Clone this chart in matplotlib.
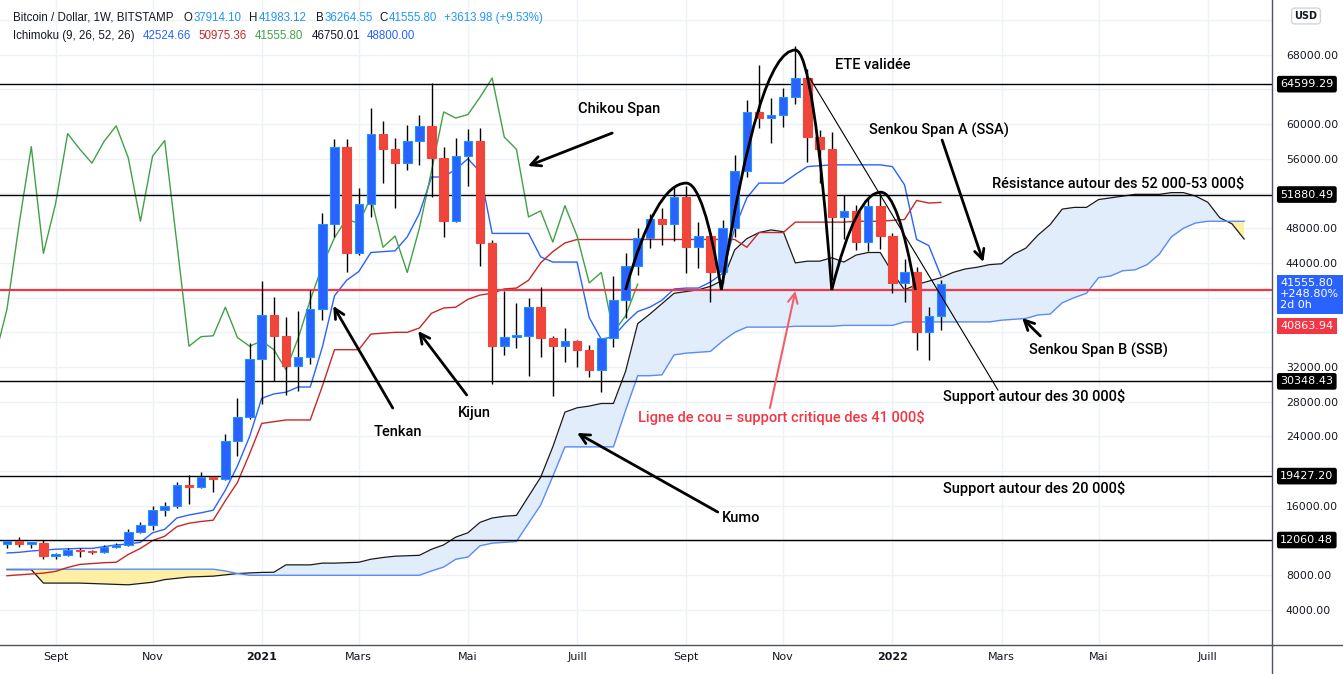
import numpy as np
import matplotlib.pyplot as plt
from matplotlib.path import Path
from matplotlib.patches import PathPatch
from matplotlib.lines import Line2D

plt.rcParams['font.family'] = ['DejaVu Sans']

# weekly candles, first bar = week of 10 Aug 2020, last = week of 31 Jan 2022
opens = [11600, 11900, 11600, 11700, 10250, 10330, 10920, 10770, 10670, 11300,
         11500, 13030, 13750, 15480, 15970, 18400, 18180, 19300, 19150, 23500,
         26200, 32900, 38000, 35600, 32100, 33100, 38700, 48500, 57400, 45100,
         50800, 58900, 57100, 55500, 58000, 59800, 56100, 48800, 56300, 58100,
         46300, 34400, 35500, 35600, 38900, 35400, 34400, 35000, 34000, 31700,
         35300, 39700, 43700, 46900, 49100, 48500, 51600, 45800, 47100, 42900,
         48000, 54600, 61400, 60700, 61100, 63100, 65300, 58500, 57100, 49300,
         50000, 46400, 50600, 47100, 41700, 42900, 36000, 37914.10]
highs = [12100, 12400, 11800, 12050, 10600, 11180, 11100, 10950, 11480, 11700,
         13350, 14100, 15970, 16480, 18800, 19500, 19900, 19400, 24300, 28400,
         34800, 41950, 40100, 37800, 38500, 40900, 49700, 58300, 58300, 52600,
         61800, 60400, 58400, 59900, 61000, 64700, 57400, 58400, 59400, 59500,
         46600, 40800, 39400, 39900, 41200, 35600, 36500, 35100, 34500, 35400,
         42500, 45100, 48000, 49600, 50300, 52700, 52900, 48700, 47400, 48900,
         56400, 62800, 66800, 63000, 64200, 69000, 66300, 59300, 59100, 51800,
         50700, 51600, 52100, 47400, 44400, 43500, 38900, 41983.12]
lows = [11100, 11300, 11150, 9900, 9850, 10200, 10150, 10400, 10530, 11200,
        11400, 12900, 13200, 14800, 15800, 16200, 18100, 17600, 19000, 21800,
        26000, 27700, 30400, 28800, 29200, 32300, 37400, 47000, 42900, 44900,
        49300, 53200, 50300, 54700, 55300, 51600, 47000, 48700, 52900, 43700,
        30100, 33400, 34200, 31000, 33200, 28700, 32600, 32000, 30900, 29100,
        34300, 37600, 42600, 45700, 46100, 46500, 42800, 43400, 39500, 41700,
        47000, 53900, 59500, 57800, 59700, 62300, 55600, 53200, 42000, 46700,
        45500, 45400, 45600, 40500, 39500, 34000, 32800, 36264.55]
closes = [11900, 11600, 11700, 10250, 10330, 10920, 10770, 10670, 11300, 11500,
          13030, 13750, 15480, 15970, 18400, 18180, 19300, 19150, 23500, 26200,
          32900, 38000, 35600, 32100, 33100, 38700, 48500, 57400, 45100, 50800,
          58900, 57100, 55500, 58000, 59800, 56100, 48800, 56300, 58100, 46300,
          34400, 35500, 35600, 38900, 35400, 34400, 35000, 34000, 31700, 35300,
          39700, 43700, 46900, 49100, 48500, 51600, 45800, 47100, 42900, 48000,
          54600, 61400, 60700, 61100, 63100, 65300, 58500, 57100, 49300, 50000,
          46400, 50600, 47100, 41700, 42900, 36000, 37900, 41555.80]

# Ichimoku lines (one value per week)
tenkan = [10570, 10650, 10800, 10900, 11000, 11050, 11100, 11100, 11300, 11500,
          11600, 11800, 12900, 13300, 14600, 14950, 15200, 15500, 17800, 20600,
          24000, 28400, 28900, 29100, 29700, 29700, 34300, 40200, 42000, 43000,
          45200, 45300, 45400, 47000, 49700, 53900, 53900, 54800, 56000, 54500,
          47400, 47400, 47400, 47400, 44700, 44100, 44100, 44100, 37700, 35200,
          35500, 37100, 38400, 38900, 39700, 41000, 41100, 41100, 41800, 42800,
          48000, 51500, 53200, 53200, 53200, 54200, 55100, 55200, 55300, 55300,
          55300, 55300, 55300, 55100, 53000, 46700, 46000, 42524.66]
kijun = [7950, 8050, 8150, 8250, 8450, 8900, 9250, 9350, 9450, 9500,
         10400, 11100, 12000, 12500, 13600, 14000, 14200, 14350, 16600, 18700,
         22000, 25500, 25700, 25900, 25900, 25900, 29800, 34000, 34000, 34000,
         35800, 35900, 36000, 36000, 36500, 38200, 38800, 38900, 39800, 40300,
         40500, 41000, 41100, 42000, 44000, 45300, 46300, 46700, 46700, 46700,
         46700, 46700, 46700, 46700, 46700, 46700, 46700, 46700, 46700, 46700,
         46700, 45800, 47500, 47500, 47500, 48700, 48700, 48700, 48700, 48700,
         48800, 48800, 48800, 48900, 49000, 51200, 50900, 50975.36]
span_a = [8650, 8650, 8650, 7100, 7100, 7100, 7100, 7050, 7000, 6950,
          6900, 7050, 7200, 7500, 7650, 7800, 7850, 7900, 8050, 8200,
          8270, 8330, 8350, 9200, 9200, 9200, 9400, 9400, 9450, 9500,
          9850, 10050, 10200, 10250, 10300, 11000, 11500, 12400, 12900, 14100,
          14600, 14800, 14900, 17100, 19300, 22800, 26800, 27300, 27500, 27800,
          27800, 31500, 37000, 38100, 39300, 40500, 40700, 40900, 41300, 42000,
          45500, 46800, 47500, 47800, 47600, 44000, 44200, 44200, 44600, 44100,
          44900, 45200, 45200, 42900, 40900, 41500, 41900, 42300, 42900, 43300,
          43500, 43800, 43900, 45000, 45700, 47200, 48400, 50200, 50400, 50400,
          51300, 51500, 51700, 51900, 51900, 51900, 52100, 52100, 51700, 51000,
          49200, 48500, 46750.01]
span_b = [8700, 8700, 8700, 8700, 8700, 8700, 8700, 8700, 8700, 8700,
          8700, 8700, 8700, 8700, 8700, 8700, 8700, 8700, 8500, 8200,
          8000, 8000, 8000, 8000, 8000, 8000, 8000, 8000, 8000, 8000,
          8000, 8000, 8000, 8000, 8000, 8500, 8950, 9850, 10100, 11400,
          11700, 11800, 11900, 14000, 16100, 19400, 22800, 22800, 22800, 22800,
          22800, 27000, 31000, 31000, 31100, 33400, 33600, 33700, 33800, 35000,
          36000, 36600, 36600, 36600, 36600, 36700, 36700, 36700, 36700, 36800,
          36800, 36800, 36800, 36800, 37200, 37200, 37200, 37200, 37200, 37200,
          37200, 37200, 37400, 37500, 37600, 38000, 38100, 39400, 40000, 40500,
          42300, 42500, 43100, 43200, 43800, 45000, 47000, 48000, 48600, 48800,
          48800, 48800, 48800]
shift = 25  # chikou / kumo displacement in bars

month_pos = [4, 12, 21, 29, 38, 47, 56, 64, 73, 82, 90, 99]
month_labels = ['Sept', 'Nov', '2021', 'Mars', 'Mai', 'Juill',
                'Sept', 'Nov', '2022', 'Mars', 'Mai', 'Juill']

levels = [64599.29, 51880.49, 30348.43, 19427.20, 12060.48]
neckline = 40863.94
covered_ticks = [72000, 64000, 52000, 40000, 36000, 20000, 12000]  # hidden behind labels

BLUE = '#2962ff'
RED = '#f0453a'
INK = '#131722'
NOTE_FONT = ['Roboto', 'DejaVu Sans']
W, H = 1343, 674

fig = plt.figure(figsize=(W / 100, H / 100), dpi=100)
ax = fig.add_axes([0, 29 / H, 1272 / W, 645 / H])

x = np.arange(len(closes))
xc = np.arange(len(span_a))
a = np.array(span_a)
b = np.array(span_b)

# kumo
ax.fill_between(xc, a, b, where=a >= b, interpolate=True, color='#e2edfb', lw=0, zorder=1)
ax.fill_between(xc, a, b, where=a < b, interpolate=True, color='#fdf0a4', lw=0, zorder=1)
ax.plot(xc, a, color='#1a1a1a', lw=0.9, zorder=2)
ax.plot(xc, b, color='#5b8cf5', lw=1, zorder=2)

ax.plot(x, tenkan, color=BLUE, lw=1, zorder=2)
ax.plot(x, kijun, color='#c62828', lw=1, zorder=2)
ax.plot(x[24:] - shift, closes[24:], color='#43a047', lw=1, zorder=2)

for lv in levels:
    ax.axhline(lv, color='black', lw=1, zorder=3)
ax.axhline(neckline, color='#f23645', lw=1.6, zorder=3)

# candles
o = np.array(opens)
c = np.array(closes)
up = c >= o
ax.vlines(x, lows, highs, color='black', lw=1, zorder=4)
ax.bar(x, np.maximum(np.abs(c - o), 180), bottom=np.minimum(o, c), width=0.7,
       color=np.where(up, BLUE, RED), edgecolor=np.where(up, '#2196f3', RED),
       lw=0.8, zorder=5)

# head & shoulders drawing (start, top, end, top price)
arches = [(51.0, 56.0, 58.9, 53200), (58.9, 65.0, 68.0, 68540), (68.0, 72.05, 74.9, 52150)]
for x0, xp, x1, top in arches:
    verts = [(x0, 40880), ((x0 + xp) / 2, top), (xp, top), ((xp + x1) / 2, top), (x1, 40880)]
    codes = [Path.MOVETO, Path.CURVE3, Path.CURVE3, Path.CURVE3, Path.CURVE3]
    ax.add_patch(PathPatch(Path(verts, codes), fill=False, lw=2, ec='black', zorder=6))
ax.plot([66.2, 81.7], [65280, 29350], color='black', lw=0.8, zorder=6)

# notes and arrows
notes = [('ETE validée', 68.3, 66810, 'black'),
         ('Chikou Span', 47.1, 61740, 'black'),
         ('Senkou Span A (SSA)', 71.1, 59320, 'black'),
         ('Résistance autour des 52 000-53 000$', 81.2, 53100, 'black'),
         ('Senkou Span B (SSB)', 84.3, 33960, 'black'),
         ('Support autour des 30 000$', 77.2, 28550, 'black'),
         ('Ligne de cou = support critique des 41 000$', 52.0, 26240, '#f23645'),
         ('Tenkan', 30.2, 24510, 'black'),
         ('Kijun', 37.2, 26700, 'black'),
         ('Support autour des 20 000$', 77.2, 17950, 'black'),
         ('Kumo', 58.9, 14600, 'black')]
for txt, tx, ty, col in notes:
    ax.text(tx, ty, txt, color=col, fontsize=10.5, family=NOTE_FONT, fontweight='medium',
            ha='left', va='center', zorder=8)

arrows = [((42.95, 55170), (49.9, 58970), 'black'),
          ((26.9, 39040), (31.8, 27280), 'black'),
          ((33.9, 36150), (37.9, 28780), 'black'),
          ((47.0, 24400), (58.6, 15290), 'black'),
          ((80.5, 44100), (77.1, 58160), 'black'),
          ((83.7, 37650), (85.2, 35580), 'black'),
          ((65.0, 40760), (62.9, 27280), '#f0606a')]
for head, tail, col in arrows:
    ax.annotate('', xy=head, xytext=tail, zorder=8,
                arrowprops=dict(arrowstyle='->,head_length=0.7,head_width=0.35',
                                color=col, lw=2 if col == 'black' else 1.5,
                                shrinkA=0, shrinkB=0))

# axes look
ax.set_xlim(-0.58, 104.3)
ax.set_ylim(-35, 74300)
ax.set_yticks(np.arange(4000, 76000, 4000))
ax.yaxis.set_major_formatter(plt.FuncFormatter(
    lambda v, p: '' if round(v) in covered_ticks else f'{v:.2f}'))
ax.yaxis.tick_right()
ax.tick_params(axis='y', length=0, pad=10, labelsize=7.8, labelcolor=INK)
ax.set_xticks(month_pos)
ax.set_xticklabels(month_labels)
for lab in ax.get_xticklabels():
    if lab.get_text() in ('2021', '2022'):
        lab.set_fontweight('bold')
ax.tick_params(axis='x', length=0, pad=5, labelsize=8, labelcolor=INK)
ax.grid(True, color='#eef1f6', lw=1)
ax.set_axisbelow(True)
for side in ('top', 'left'):
    ax.spines[side].set_visible(False)
for side in ('right', 'bottom'):
    ax.spines[side].set_color('#50535e')
    ax.spines[side].set_linewidth(1)
fig.add_artist(Line2D([1272 / W, 1272 / W], [0, 29 / H], color='#50535e', lw=1))
fig.add_artist(Line2D([1272 / W, 1], [29 / H, 29 / H], color='#50535e', lw=1))

# price labels on the axis
ytr = ax.get_yaxis_transform()
for lv in levels:
    ax.text(1.0065, lv, f'{lv:.2f}', transform=ytr, color='white', fontsize=8,
            ha='left', va='center', zorder=10, clip_on=False,
            bbox=dict(boxstyle='round,pad=0.3,rounding_size=0.2', fc='black', ec='none'))
ax.text(1.0065, 42250, '41555.80\n+248.80%\n2d 0h', transform=ytr, color='white',
        fontsize=8, ha='left', va='top', linespacing=1.15, zorder=10, clip_on=False,
        bbox=dict(boxstyle='square,pad=0.3', fc=BLUE, ec='none'))
ax.text(1.0065, 36730, '40863.94', transform=ytr, color='white', fontsize=8,
        ha='left', va='center', zorder=10, clip_on=False,
        bbox=dict(boxstyle='square,pad=0.3', fc='#f23645', ec='none'))
fig.text(1306 / W, 1 - 16 / H, 'USD', fontsize=7, color=INK, ha='center', va='center',
         fontweight='bold',
         bbox=dict(boxstyle='round,pad=0.3', fc='white', ec='#d1d4dc'))

# legend header: (text, colour, gap in px before it)
head1 = [('Bitcoin / Dollar, 1W, BITSTAMP', INK, 0), ('O', INK, 10), ('37914.10', '#2196f3', 1),
         ('H', INK, 8), ('41983.12', '#2196f3', 1), ('B', INK, 9), ('36264.55', '#2196f3', 1),
         ('C', INK, 7), ('41555.80', '#2196f3', 1), ('+3613.98 (+9.53%)', '#2196f3', 7)]
head2 = [('Ichimoku (9, 26, 52, 26)', INK, 0), ('42524.66', BLUE, 8), ('50975.36', '#c62828', 8),
         ('41555.80', '#43a047', 8), ('46750.01', INK, 8), ('48800.00', BLUE, 7)]
renderer = fig.canvas.get_renderer()
for row, yy in ((head1, 18), (head2, 36)):
    xx = 13
    for txt, col, gap in row:
        xx += gap
        t = fig.text(xx / W, 1 - yy / H, txt, color=col, fontsize=8.3,
                     family='Liberation Sans', ha='left', va='center')
        xx = t.get_window_extent(renderer).x1

fig.savefig('out.png', dpi=100, facecolor='white')
